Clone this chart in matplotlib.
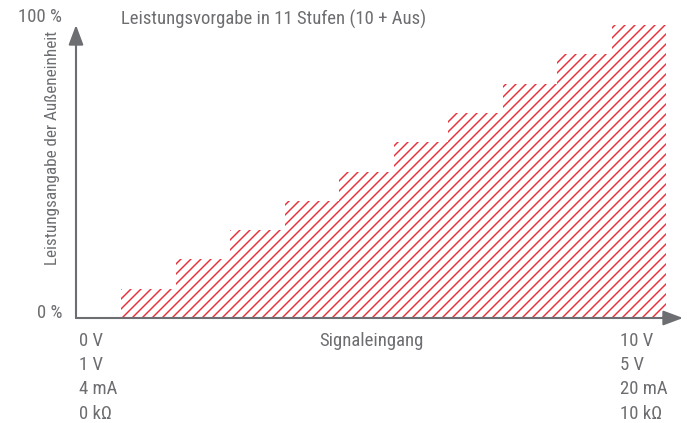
import matplotlib
matplotlib.use("Agg")
import matplotlib.pyplot as plt
from matplotlib import font_manager

# step index (0 = first powered step) and power level of each step (in 10 % units)
steps = [0, 1, 2, 3, 4, 5, 6, 7, 8, 9]
levels = [1, 2, 3, 4, 5, 6, 7, 8, 9, 10]

left_labels = ["0 V", "1 V", "4 mA", "0 k\u03a9"]
right_labels = ["10 V", "5 V", "20 mA", "10 k\u03a9"]

title = "Leistungsvorgabe in 11 Stufen (10 + Aus)"
xlabel = "Signaleingang"
ylabel = "Leistungsangabe der Au\u00dfeneinheit"

GREY = "#6d6e71"
RED = "#e8303a"

# dpi 120 so the '////' hatch comes out at ~5 px spacing; sizes below are
# given as if at 100 dpi and scaled by k
DPI = 120
k = 100 / DPI

# pick a narrow sans if one is installed, else Roboto
installed = {f.name for f in font_manager.fontManager.ttflist}
narrow = [n for n in ("Roboto Condensed", "Liberation Sans Narrow", "Arial Narrow")
          if n in installed]
if narrow:
    plt.rcParams['font.family'] = [narrow[0], 'DejaVu Sans']
    fs, fs_y = 13.5, 12.3
else:
    plt.rcParams['font.family'] = ['Roboto', 'DejaVu Sans']
    fs, fs_y = 12, 11
fs, fs_y = fs * k, fs_y * k
plt.rcParams['hatch.linewidth'] = 1.05 * k

W, H = 687, 423
fig = plt.figure(figsize=(W / DPI, H / DPI), dpi=DPI)

# axes placed in pixel terms: y axis at x=76, x axis at y=318, arrow tips at 683 / 25
x0, x1, y0, y1 = 76, 683, 318, 25
ax = fig.add_axes([x0 / W, 1 - y0 / H, (x1 - x0) / W, (y0 - y1) / H])

step_px = 54.5
ax.set_xlim(-(121 - x0) / step_px, (x1 - 121) / step_px)
ax.set_ylim(0, 10)

ax.bar(steps, levels, width=1.0, align='edge', color='white',
       edgecolor=RED, hatch='////', linewidth=0)

ax.axis('off')

# axis arrows
arrow = dict(arrowstyle='-|>,head_length=1.2,head_width=0.45', color=GREY,
             lw=1.5 * k, shrinkA=0, shrinkB=0, mutation_scale=10 * k)
ax.annotate('', xy=(0, 1), xytext=(0, 0), xycoords='axes fraction',
            arrowprops=arrow, annotation_clip=False)
ax.annotate('', xy=(1, 0), xytext=(0, 0), xycoords='axes fraction',
            arrowprops=arrow, annotation_clip=False)


def px(x, y):
    return x / W, 1 - y / H


fig.text(*px(62, 17), "100 %", ha='right', va='center', fontsize=fs, color=GREY)
fig.text(*px(62, 313), "0 %", ha='right', va='center', fontsize=fs, color=GREY)
fig.text(*px(121, 19), title, ha='left', va='center', fontsize=fs, color=GREY)
fig.text(*px(52, 148), ylabel, ha='center', va='center', rotation=90,
         fontsize=fs_y, color=GREY)
fig.text(*px(371, 341), xlabel, ha='center', va='center', fontsize=fs, color=GREY)

for i, (lt, rt) in enumerate(zip(left_labels, right_labels)):
    y = 341 + i * 24.2
    fig.text(*px(79, y), lt, ha='left', va='center', fontsize=fs, color=GREY)
    fig.text(*px(620, y), rt, ha='left', va='center', fontsize=fs, color=GREY)

fig.savefig("out.png", dpi=DPI)
